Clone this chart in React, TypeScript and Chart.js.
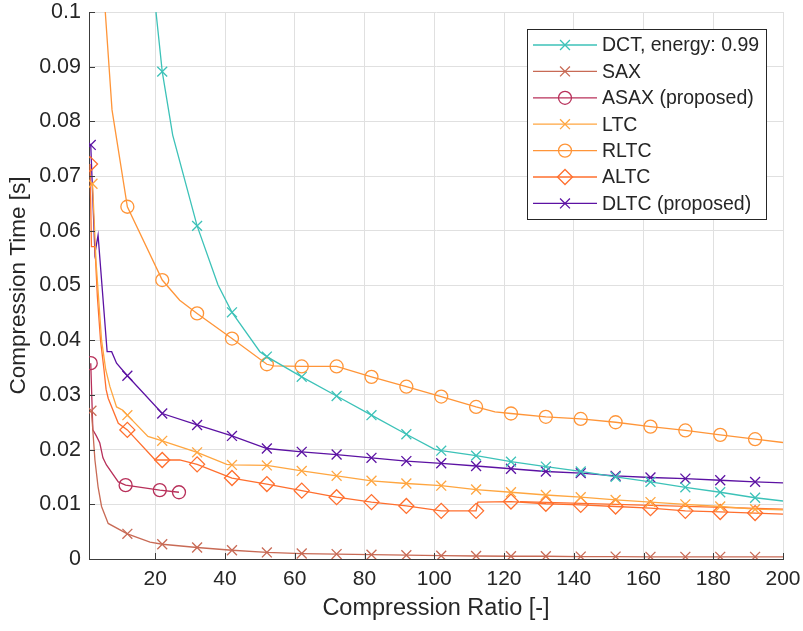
import React, { useEffect, useRef } from 'react';
import { Chart, registerables } from 'chart.js';

Chart.register(...registerables);

// ---------- data ----------
const seriesNames = ['DCT, energy: 0.99', 'SAX', 'ASAX (proposed)', 'LTC', 'RLTC', 'ALTC', 'DLTC (proposed)'];

const stdMarks = [2, 12, 22, 32, 42, 52, 62, 72, 82, 92, 102, 112, 122, 132, 142, 152, 162, 172, 182, 192];

const dctX = [12, 22, 25, 32, 38, 42, 50, 52, 62, 72, 82, 92, 100, 102, 112, 122, 132, 142, 152, 162, 172, 182, 192, 200];
const dctY = [0.15, 0.0891, 0.0775, 0.0609, 0.0501, 0.0451, 0.0379, 0.037, 0.0333, 0.0298, 0.0263, 0.0228, 0.0201, 0.0198, 0.0189, 0.0178, 0.0169, 0.016, 0.015, 0.0141, 0.0131, 0.0122, 0.0112, 0.0106];

const saxX = [1.7, 2.7, 3.6, 4.6, 6.5, 12, 18.5, 22, 32, 42, 52, 62, 72, 82, 92, 102, 112, 122, 132, 142, 152, 162, 172, 182, 192, 200];
const saxY = [0.0271, 0.0181, 0.0132, 0.0096, 0.0065, 0.0046, 0.0031, 0.0027, 0.0021, 0.0016, 0.0012, 0.001, 0.0009, 0.0008, 0.0007, 0.0006, 0.00055, 0.0005, 0.0005, 0.00045, 0.00045, 0.0004, 0.0004, 0.0004, 0.0004, 0.0004];
const saxMarks = [1.7, 12, 22, 32, 42, 52, 62, 72, 82, 92, 102, 112, 122, 132, 142, 152, 162, 172, 182, 192];

const asaxX = [1.5, 2.1, 3.1, 4.1, 5.0, 6.0, 9.4, 11.5, 21.3, 26.8];
const asaxY = [0.0358, 0.0236, 0.0225, 0.0212, 0.0185, 0.0172, 0.0141, 0.0135, 0.0126, 0.0122];
const asaxMarks = [1.5, 11.5, 21.3, 26.8];

const ltcX = [2, 2.2, 3.0, 4.6, 5.8, 7.0, 8.9, 10.7, 12, 17.9, 22, 32, 40.5, 42, 52, 62, 72, 82, 92, 102, 112, 122, 132, 142, 152, 162, 172, 182, 192, 200];
const ltcY = [0.0686, 0.066, 0.0545, 0.04, 0.0346, 0.0315, 0.0278, 0.0272, 0.0263, 0.0224, 0.0216, 0.0195, 0.0173, 0.0172, 0.0171, 0.0161, 0.0152, 0.0143, 0.0138, 0.0134, 0.0127, 0.0122, 0.0117, 0.0113, 0.0108, 0.0104, 0.01, 0.0096, 0.0091, 0.009];

const rltcX = [2, 7.6, 12, 22, 27, 32, 42, 52, 54, 62, 72, 82, 92, 102, 112, 117.4, 122, 132, 142, 152, 162, 172, 182, 192, 200];
const rltcY = [0.134, 0.0821, 0.0644, 0.051, 0.0473, 0.0449, 0.0403, 0.0356, 0.0353, 0.0352, 0.0352, 0.0333, 0.0315, 0.0297, 0.0278, 0.0269, 0.0266, 0.026, 0.0256, 0.025, 0.0242, 0.0235, 0.0227, 0.0219, 0.0213];

const altcX = [1.3, 1.7, 2.7, 3.4, 4.3, 5.3, 5.9, 6.5, 9.4, 12, 20, 22, 27, 32, 42, 52, 62, 72, 82, 92, 102, 112, 112.5, 122, 132, 142, 152, 162, 172, 182, 192, 200];
const altcY = [0.0722, 0.0571, 0.0571, 0.048, 0.04, 0.0346, 0.031, 0.0294, 0.0248, 0.0236, 0.0181, 0.0181, 0.0181, 0.0173, 0.0148, 0.0137, 0.0125, 0.0113, 0.0104, 0.0097, 0.0088, 0.0088, 0.0104, 0.0105, 0.0101, 0.0099, 0.0096, 0.0093, 0.0088, 0.0086, 0.0084, 0.0082];
const altcMarks = [1.3, 12, 22, 32, 42, 52, 62, 72, 82, 92, 102, 112, 122, 132, 142, 152, 162, 172, 182, 192];
const altcTailX = [124.6, 200];
const altcTailY = [0.0105, 0.0091];

const dltcX = [1.5, 2.7, 3.6, 6.2, 7.5, 8.9, 12, 22, 32, 42, 52, 62, 72, 82, 92, 102, 112, 122, 132, 142, 152, 162, 172, 182, 192, 200];
const dltcY = [0.0757, 0.0559, 0.0592, 0.0379, 0.0379, 0.0358, 0.0335, 0.0266, 0.0245, 0.0225, 0.0202, 0.0196, 0.0191, 0.0185, 0.0179, 0.0175, 0.017, 0.0165, 0.016, 0.0157, 0.0152, 0.0149, 0.0147, 0.0144, 0.0141, 0.0139];
const dltcMarks = [1.5, 12, 22, 32, 42, 52, 62, 72, 82, 92, 102, 112, 122, 132, 142, 152, 162, 172, 182, 192];

const xTickValues = [20, 40, 60, 80, 100, 120, 140, 160, 180, 200];

// ---------- styles ----------
const FONT = "'Liberation Sans', Arial, Helvetica, sans-serif";
const TEXT = '#262626';
const AXIS = '#3c3c3c';
const GRID = '#e0e0e0';

type Spec = { name: string; xs: number[]; ys: number[]; marks: number[]; color: string; style: string; r: number; legend: boolean };

const specs: Spec[] = [
  { name: seriesNames[0], xs: dctX, ys: dctY, marks: stdMarks, color: '#3cc2b8', style: 'crossRot', r: 7, legend: true },
  { name: seriesNames[1], xs: saxX, ys: saxY, marks: saxMarks, color: '#c86a55', style: 'crossRot', r: 7, legend: true },
  { name: seriesNames[2], xs: asaxX, ys: asaxY, marks: asaxMarks, color: '#b8305a', style: 'circle', r: 6.5, legend: true },
  { name: seriesNames[3], xs: ltcX, ys: ltcY, marks: stdMarks, color: '#ffa640', style: 'crossRot', r: 7, legend: true },
  { name: seriesNames[4], xs: rltcX, ys: rltcY, marks: stdMarks, color: '#ff9538', style: 'circle', r: 6.5, legend: true },
  { name: seriesNames[5], xs: altcX, ys: altcY, marks: altcMarks, color: '#ff6f2e', style: 'rectRot', r: 7.5, legend: true },
  { name: seriesNames[6], xs: dltcX, ys: dltcY, marks: dltcMarks, color: '#5c12a3', style: 'crossRot', r: 7, legend: true },
  { name: 'ALTC tail', xs: altcTailX, ys: altcTailY, marks: [], color: '#ff6f2e', style: 'circle', r: 0, legend: false },
];

function drawMarker(ctx: CanvasRenderingContext2D, style: string, x: number, y: number, r: number) {
  ctx.beginPath();
  if (style === 'circle') {
    ctx.arc(x, y, r, 0, Math.PI * 2);
  } else if (style === 'rectRot') {
    ctx.moveTo(x - r, y);
    ctx.lineTo(x, y - r);
    ctx.lineTo(x + r, y);
    ctx.lineTo(x, y + r);
    ctx.closePath();
  } else {
    const o = r * Math.SQRT1_2;
    ctx.moveTo(x - o, y - o);
    ctx.lineTo(x + o, y + o);
    ctx.moveTo(x + o, y - o);
    ctx.lineTo(x - o, y + o);
  }
  ctx.stroke();
}

const overlayPlugin = {
  id: 'overlay',
  afterDraw(chart: any) {
    const ctx: CanvasRenderingContext2D = chart.ctx;
    const { left, bottom } = chart.chartArea;
    const xs = chart.scales.x;
    const ys = chart.scales.y;
    ctx.save();
    // inward tick marks
    ctx.strokeStyle = AXIS;
    ctx.lineWidth = 1;
    ys.ticks.forEach((t: any) => {
      const py = Math.round(ys.getPixelForValue(t.value)) + 0.5;
      ctx.beginPath();
      ctx.moveTo(left, py);
      ctx.lineTo(left + 6, py);
      ctx.stroke();
    });
    xs.ticks.forEach((t: any) => {
      const px = Math.round(xs.getPixelForValue(t.value)) + 0.5;
      ctx.beginPath();
      ctx.moveTo(px, bottom);
      ctx.lineTo(px, bottom - 6);
      ctx.stroke();
    });
    // legend
    const bx = 527.5, by = 29.5, bw = 239, bh = 190;
    ctx.fillStyle = '#ffffff';
    ctx.fillRect(bx, by, bw, bh);
    ctx.strokeStyle = TEXT;
    ctx.lineWidth = 1;
    ctx.strokeRect(bx, by, bw, bh);
    const items = specs.filter((s) => s.legend);
    ctx.font = `19.5px ${FONT}`;
    ctx.textBaseline = 'middle';
    ctx.textAlign = 'left';
    items.forEach((s, i) => {
      const y = 45 + i * 26.4;
      ctx.strokeStyle = s.color;
      ctx.lineWidth = 1.3;
      ctx.beginPath();
      ctx.moveTo(533, y);
      ctx.lineTo(597, y);
      ctx.stroke();
      drawMarker(ctx, s.style, 565, y, s.r);
      ctx.fillStyle = TEXT;
      ctx.fillText(s.name, 602, y + 1);
    });
    ctx.restore();
  },
};

export default function App() {
  const ref = useRef<HTMLCanvasElement | null>(null);
  useEffect(() => {
    document.body.style.margin = '0';
    if (!ref.current) return;
    const datasets = specs.map((s) => ({
      label: s.name,
      data: s.xs.map((x, i) => ({ x, y: s.ys[i] })),
      borderColor: s.color,
      backgroundColor: s.color,
      borderWidth: 1.3,
      tension: 0,
      fill: false,
      pointStyle: s.style as any,
      pointRadius: s.xs.map((x) => (s.marks.includes(x) ? s.r : 0)),
      pointHoverRadius: s.xs.map((x) => (s.marks.includes(x) ? s.r : 0)),
      pointBorderColor: s.color,
      pointBackgroundColor: 'rgba(0,0,0,0)',
      pointBorderWidth: 1.3,
    }));
    const chart = new Chart(ref.current, {
      type: 'line',
      data: { datasets },
      plugins: [overlayPlugin],
      options: {
        animation: false,
        responsive: false,
        devicePixelRatio: 1,
        layout: { padding: { top: 12, right: 20, left: 0, bottom: 0 } },
        plugins: { legend: { display: false }, tooltip: { enabled: false } },
        scales: {
          x: {
            type: 'linear',
            min: 1,
            max: 200,
            afterFit: (s: any) => { s.height = 72; s.paddingLeft = 0; s.paddingRight = 0; },
            afterBuildTicks: (s: any) => { s.ticks = xTickValues.map((v) => ({ value: v })); },
            ticks: { includeBounds: false, stepSize: 20, padding: 8, color: TEXT, font: { family: FONT, size: 21 }, maxRotation: 0 },
            grid: { color: GRID, drawTicks: false, lineWidth: 1 },
            border: { color: AXIS, width: 1 },
            title: { display: true, text: 'Compression Ratio [-]', color: TEXT, font: { family: FONT, size: 23.5 }, padding: { top: 0, bottom: 8 } },
          },
          y: {
            type: 'linear',
            min: 0,
            max: 0.1,
            afterFit: (s: any) => { s.width = 89; s.paddingTop = 0; s.paddingBottom = 0; },
            ticks: {
              stepSize: 0.01,
              padding: 8,
              color: TEXT,
              font: { family: FONT, size: 21.5 },
              callback: (v: any) => String(Number(Number(v).toFixed(3))),
            },
            grid: { color: GRID, drawTicks: false, lineWidth: 1 },
            border: { color: AXIS, width: 1 },
            title: { display: true, text: 'Compression Time [s]', color: TEXT, font: { family: FONT, size: 22.5 }, padding: { top: 5, bottom: 0 } },
          },
        },
      },
    });
    return () => chart.destroy();
  }, []);
  return (
    <div style={{ width: 803, height: 631, position: 'relative', background: '#fff' }}>
      <canvas ref={ref} width={803} height={631} style={{ display: 'block' }} />
    </div>
  );
}
